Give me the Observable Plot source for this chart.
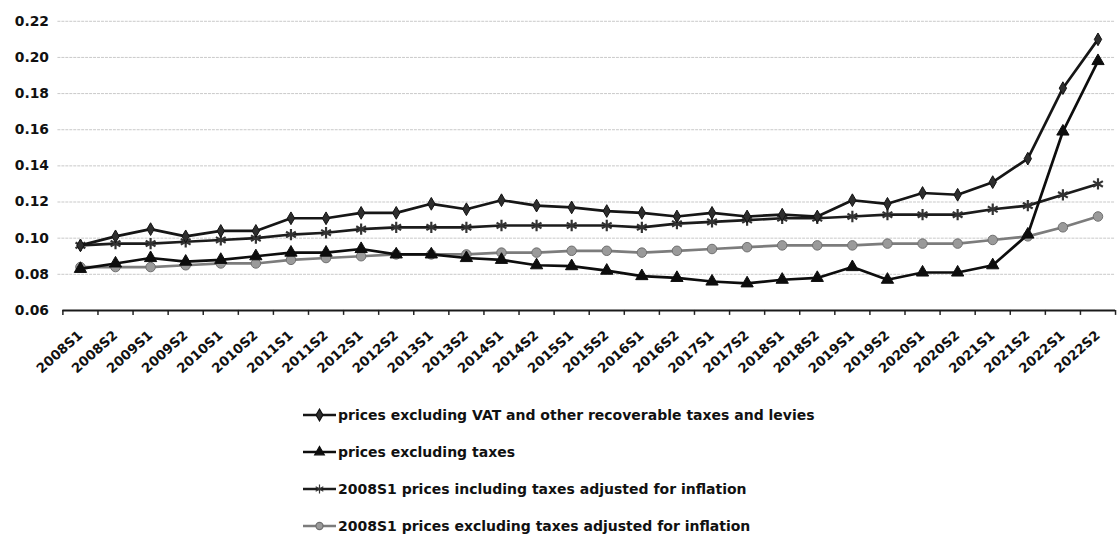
<!DOCTYPE html>
<html>
<head>
<meta charset="utf-8">
<script src="https://cdn.jsdelivr.net/npm/d3@7"></script>
<script src="https://cdn.jsdelivr.net/npm/@observablehq/plot@0.6"></script>
<style>
  html, body { margin: 0; padding: 0; background: #fff; overflow: hidden; width: 1119px; height: 555px; }
  body { font-family: "DejaVu Sans", "Liberation Sans", Arial, sans-serif; }
  #chart svg { display: block; }
  #legend { margin-left: 302px; margin-top: 10px; }
  .row { display: flex; align-items: center; height: 37px; font-weight: bold; font-size: 14px; color: #111; }
  .row svg { margin-right: 1px; }
</style>
</head>
<body>
<div id="chart"></div>
<div id="legend"></div>
<script>
const categories = ["2008S1","2008S2","2009S1","2009S2","2010S1","2010S2","2011S1","2011S2","2012S1","2012S2",
  "2013S1","2013S2","2014S1","2014S2","2015S1","2015S2","2016S1","2016S2","2017S1","2017S2",
  "2018S1","2018S2","2019S1","2019S2","2020S1","2020S2","2021S1","2021S2","2022S1","2022S2"];

const seriesNames = [
  "prices excluding VAT and other recoverable taxes and levies",
  "prices excluding taxes",
  "2008S1 prices including taxes adjusted for inflation",
  "2008S1 prices excluding taxes adjusted for inflation"
];

const pricesExclVAT = [0.096, 0.101, 0.105, 0.101, 0.104, 0.104, 0.111, 0.111, 0.114, 0.114,
  0.119, 0.116, 0.121, 0.118, 0.117, 0.115, 0.114, 0.112, 0.114, 0.112,
  0.113, 0.112, 0.121, 0.119, 0.125, 0.124, 0.131, 0.144, 0.183, 0.210];
const pricesExclTaxes = [0.083, 0.086, 0.089, 0.087, 0.088, 0.090, 0.092, 0.092, 0.094, 0.091,
  0.091, 0.089, 0.088, 0.085, 0.0845, 0.082, 0.079, 0.078, 0.076, 0.075,
  0.077, 0.078, 0.084, 0.077, 0.081, 0.081, 0.085, 0.102, 0.159, 0.198];
const inclTaxesInfl = [0.096, 0.097, 0.097, 0.098, 0.099, 0.100, 0.102, 0.103, 0.105, 0.106,
  0.106, 0.106, 0.107, 0.107, 0.107, 0.107, 0.106, 0.108, 0.109, 0.110,
  0.111, 0.111, 0.112, 0.113, 0.113, 0.113, 0.116, 0.118, 0.124, 0.130];
const exclTaxesInfl = [0.084, 0.084, 0.084, 0.085, 0.086, 0.086, 0.088, 0.089, 0.090, 0.091,
  0.091, 0.091, 0.092, 0.092, 0.093, 0.093, 0.092, 0.093, 0.094, 0.095,
  0.096, 0.096, 0.096, 0.097, 0.097, 0.097, 0.099, 0.101, 0.106, 0.112];

const yTicks = [0.06, 0.08, 0.10, 0.12, 0.14, 0.16, 0.18, 0.20, 0.22];

const styles = [
  {symbol: "diamond", line: "#161616", fill: "#2e2e2e", stroke: "#111", r: 3.9},
  {symbol: "triangle", line: "#0d0d0d", fill: "#0d0d0d", stroke: "#0d0d0d", r: 4.6},
  {symbol: "asterisk", line: "#1c1c1c", fill: "none", stroke: "#333", r: 5.4},
  {symbol: "circle", line: "#7c7c7c", fill: "#9a9a9a", stroke: "#6e6e6e", r: 4.8}
];

const allSeries = [pricesExclVAT, pricesExclTaxes, inclTaxesInfl, exclTaxesInfl];
const rows = allSeries.map((vals, s) => vals.map((v, i) => ({i, v, s})));

const idx = categories.map((_, i) => i);
const boundaries = d3.range(categories.length + 1).map(k => k - 0.5);

const marks = [
  Plot.ruleY(yTicks.slice(1), {stroke: "#c8c8c8", strokeWidth: 1, strokeDasharray: "3,1", insetLeft: -5}),
  Plot.axisY({ticks: yTicks, tickSize: 0, tickPadding: 14, tickFormat: d3.format(".2f"),
    fontSize: 14, fontWeight: "bold", fill: "#111", label: null}),
  Plot.axisX({ticks: boundaries, tickSize: 5, tickFormat: () => "", stroke: "#222", strokeWidth: 1.5, label: null}),
  Plot.axisX({ticks: idx, tickSize: 0, tickPadding: 23, tickRotate: -42, tickFormat: i => categories[i],
    fontSize: 13.5, fontWeight: "bold", fill: "#111", label: null}),
  Plot.ruleY([0.06], {stroke: "#1a1a1a", strokeWidth: 2})
];

// draw order: circle series, asterisk, triangle, diamond
[3, 2, 1, 0].forEach(s => {
  const st = styles[s];
  marks.push(Plot.line(rows[s], {x: "i", y: "v", stroke: st.line, strokeWidth: 2.7}));
  marks.push(Plot.dot(rows[s], {x: "i", y: "v", symbol: () => st.symbol, r: st.r,
    fill: st.fill, stroke: st.stroke, strokeWidth: st.symbol === "asterisk" ? 2.2 : 1}));
});

const chart = Plot.plot({
  width: 1130,
  height: 390,
  marginLeft: 63,
  marginRight: 4,
  marginTop: 21,
  marginBottom: 77,
  style: {background: "#fff", fontFamily: "'DejaVu Sans', 'Liberation Sans', Arial, sans-serif"},
  x: {type: "linear", domain: [-0.5, categories.length - 0.5], axis: null},
  y: {domain: [0.06, 0.22], axis: null},
  symbol: {type: "identity"},
  marks
});
document.getElementById("chart").appendChild(chart);

// legend
const legend = d3.select("#legend");
const symGen = {
  diamond: d3.symbolDiamond, triangle: d3.symbolTriangle,
  asterisk: d3.symbolAsterisk, circle: d3.symbolCircle
};
seriesNames.forEach((name, s) => {
  const st = styles[s];
  const row = legend.append("div").attr("class", "row");
  const svg = row.append("svg").attr("width", 35).attr("height", 14);
  svg.append("line").attr("x1", 1).attr("x2", 34).attr("y1", 7).attr("y2", 7)
    .attr("stroke", st.line).attr("stroke-width", 2.4);
  svg.append("path").attr("transform", "translate(17.5,7)")
    .attr("d", d3.symbol(symGen[st.symbol], st.symbol === "asterisk" ? 55 : 40)())
    .attr("fill", st.fill).attr("stroke", st.stroke).attr("stroke-width", 1.2);
  row.append("span").text(name);
});
</script>
</body>
</html>
